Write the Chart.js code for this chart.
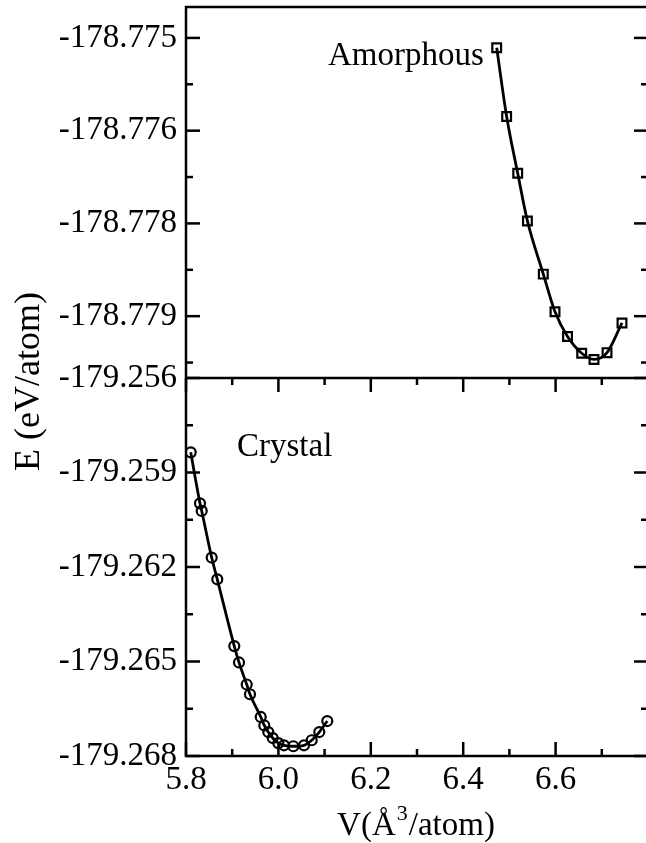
<!DOCTYPE html>
<html>
<head>
<meta charset="utf-8">
<script src="https://cdn.jsdelivr.net/npm/chart.js@4.4.1/dist/chart.umd.min.js"></script>
<style>
  html, body { margin: 0; padding: 0; background: #fff; overflow: hidden; }
  #wrap { width: 646px; height: 843px; overflow: hidden; }
</style>
</head>
<body>
<div id="wrap"><canvas id="eos" width="650" height="843" style="width:650px;height:843px"></canvas></div>
<script>
// Amorphous (squares, upper panel)
const amorphV = [6.4725, 6.494, 6.518, 6.539, 6.5734, 6.5987, 6.6258, 6.6565, 6.6831, 6.7113, 6.7437];
const amorphE = [-178.77516, -178.77627, -178.77719, -178.77796, -178.77882, -178.77943,
                 -178.77983, -178.7801, -178.7802, -178.78009, -178.77961];

// Crystal (circles, lower panel)
const crystV = [5.8102, 5.8303, 5.834, 5.8556, 5.8677, 5.9045, 5.9147, 5.9314, 5.9385, 5.9617,
                5.9695, 5.9781, 5.9877, 5.9998, 6.0121, 6.0323, 6.0554, 6.0721, 6.0885, 6.1058];
const crystE = [-179.25836, -179.25998, -179.26022, -179.2617, -179.26239, -179.26451, -179.26503,
                -179.26573, -179.26604, -179.26676, -179.26703, -179.26724, -179.26743, -179.26759,
                -179.26766, -179.26769, -179.26766, -179.2675, -179.26724, -179.26689];

// axes
const xMajor = [5.8, 6.0, 6.2, 6.4, 6.6];
const xMinor = [5.9, 6.1, 6.3, 6.5, 6.7];
const yTopMajor = [-178.775, -178.7765, -178.778, -178.7795];
const yTopLabels = ["-178.775", "-178.776", "-178.778", "-178.779"];
const yTopMinor = [-178.77575, -178.77725, -178.77875, -178.78025];
const yBotMajor = [-179.256, -179.259, -179.262, -179.265, -179.268];
const yBotLabels = ["-179.256", "-179.259", "-179.262", "-179.265", "-179.268"];
const yBotMinor = [-179.2575, -179.2605, -179.2635, -179.2665];

const SERIF = "'Liberation Serif', 'Times New Roman', serif";
Chart.defaults.font.family = SERIF;
Chart.defaults.font.size = 33;
Chart.defaults.color = "#000";

function pts(xs, ys) {
  return xs.map((v, i) => ({ x: v, y: ys[i] }));
}

function noPad(s) {
  s.paddingTop = 0; s.paddingBottom = 0; s.paddingLeft = 0; s.paddingRight = 0;
}

// frame, panel divider and inward ticks
const frameTicks = {
  id: "frameTicks",
  afterDraw(chart) {
    const { ctx, chartArea: a, scales } = chart;
    const mid = scales.yBot.top;
    const seg = (x1, y1, x2, y2) => { ctx.beginPath(); ctx.moveTo(x1, y1); ctx.lineTo(x2, y2); ctx.stroke(); };
    ctx.save();
    ctx.strokeStyle = "#000";
    ctx.lineWidth = 2.5;
    ctx.strokeRect(a.left, a.top, a.right - a.left, a.bottom - a.top);
    seg(a.left, mid, a.right, mid);

    const yTicks = (scale, vals, len) => vals.forEach(v => {
      const p = scale.getPixelForValue(v);
      seg(a.left, p, a.left + len, p);
      seg(a.right, p, a.right - len, p);
    });
    yTicks(scales.yTop, yTopMajor, 14);
    yTicks(scales.yTop, yTopMinor, 7);
    yTicks(scales.yBot, yBotMajor, 14);
    yTicks(scales.yBot, yBotMinor, 7);

    const xTicks = (vals, len) => vals.forEach(v => {
      const p = scales.x.getPixelForValue(v);
      seg(p, a.bottom, p, a.bottom - len);
      seg(p, mid, p, mid + len);
    });
    xTicks(xMajor, 14);
    xTicks(xMinor, 7);
    ctx.restore();
  }
};

// panel labels and axis titles
const texts = {
  id: "texts",
  afterDraw(chart) {
    const { ctx, chartArea: a } = chart;
    ctx.save();
    ctx.fillStyle = "#000";
    ctx.textBaseline = "alphabetic";
    ctx.font = "33px " + SERIF;
    ctx.textAlign = "left";
    ctx.fillText("Amorphous", 328, 65);
    ctx.fillText("Crystal", 237, 456);

    // x title with superscript
    const p1 = "V(\u00C5", p3 = "/atom)";
    ctx.font = "33px " + SERIF;
    const w1 = ctx.measureText(p1).width, w3 = ctx.measureText(p3).width;
    ctx.font = "22px " + SERIF;
    const w2 = ctx.measureText("3").width + 2;
    const cx = (a.left + 646) / 2;
    let x0 = cx - (w1 + w2 + w3) / 2;
    ctx.font = "33px " + SERIF;
    ctx.fillText(p1, x0, 835);
    ctx.font = "22px " + SERIF;
    ctx.fillText("3", x0 + w1 + 1, 820);
    ctx.font = "33px " + SERIF;
    ctx.fillText(p3, x0 + w1 + w2, 835);

    // y title
    ctx.translate(39, (a.top + a.bottom) / 2);
    ctx.rotate(-Math.PI / 2);
    ctx.textAlign = "center";
    ctx.font = "36px " + SERIF;
    ctx.fillText("E (eV/atom)", 0, 0);
    ctx.restore();
  }
};

const common = {
  showLine: true,
  borderColor: "#000",
  borderWidth: 2.8,
  backgroundColor: "rgba(0,0,0,0)",
  pointBorderColor: "#000",
  pointBackgroundColor: "rgba(0,0,0,0)",
  pointBorderWidth: 2.2,
  cubicInterpolationMode: "monotone"
};

new Chart(document.getElementById("eos").getContext("2d"), {
  type: "scatter",
  data: {
    datasets: [
      Object.assign({
        label: "Amorphous",
        data: pts(amorphV, amorphE),
        yAxisID: "yTop",
        pointStyle: "rect",
        pointRadius: 6.2,
        pointHoverRadius: 6.2
      }, common),
      Object.assign({
        label: "Crystal",
        data: pts(crystV, crystE),
        yAxisID: "yBot",
        pointStyle: "circle",
        pointRadius: 5,
        pointHoverRadius: 5
      }, common)
    ]
  },
  options: {
    responsive: false,
    animation: false,
    events: [],
    layout: { autoPadding: false, padding: { left: 0, top: 7, right: 2, bottom: 0 } },
    plugins: { legend: { display: false }, tooltip: { enabled: false } },
    scales: {
      x: {
        type: "linear",
        min: 5.8,
        max: 6.8,
        grid: { display: false, drawTicks: false },
        border: { display: false },
        afterBuildTicks: s => { s.ticks = xMajor.map(v => ({ value: v })); },
        ticks: { padding: 5, autoSkip: false, maxRotation: 0, callback: v => v.toFixed(1) },
        afterFit: s => { s.height = 87; noPad(s); }
      },
      // lower panel first: stacked left axes are laid out bottom-up
      yBot: {
        type: "linear",
        position: "left",
        stack: "E",
        stackWeight: 378,
        min: -179.268,
        max: -179.256,
        grid: { display: false, drawTicks: false },
        border: { display: false },
        afterBuildTicks: s => { s.ticks = yBotMajor.map(v => ({ value: v })); },
        ticks: { padding: 9, autoSkip: false, callback: v => yBotLabels[yBotMajor.indexOf(v)] },
        afterFit: s => { s.width = 186; noPad(s); }
      },
      yTop: {
        type: "linear",
        position: "left",
        stack: "E",
        stackWeight: 371,
        min: -178.7805,
        max: -178.7745,
        grid: { display: false, drawTicks: false },
        border: { display: false },
        afterBuildTicks: s => { s.ticks = yTopMajor.map(v => ({ value: v })); },
        ticks: { padding: 9, autoSkip: false, callback: v => yTopLabels[yTopMajor.indexOf(v)] },
        afterFit: s => { s.width = 186; noPad(s); }
      }
    }
  },
  plugins: [frameTicks, texts]
});
</script>
</body>
</html>
